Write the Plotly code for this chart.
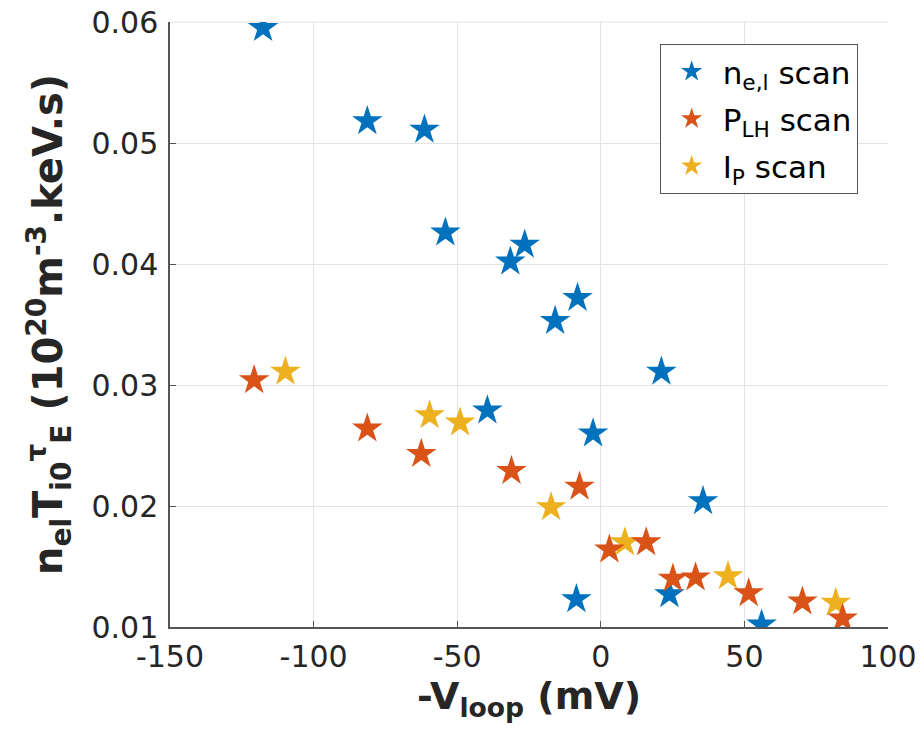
import plotly.graph_objects as go

# n_e,l scan (blue)
ne_x = [-117.6, -81.3, -61.4, -54.1, -26.5, -31.5, -39.5, -8.1, -15.9, 21.1, -2.7, 35.6, -8.5, 23.9, 56.0]
ne_y = [0.0595, 0.0518, 0.0511, 0.0426, 0.0416, 0.0402, 0.0279, 0.0372, 0.0353, 0.0311, 0.0260, 0.0204, 0.0123, 0.0127, 0.0102]

# P_LH scan (orange)
plh_x = [-120.7, -81.3, -62.5, -31.1, -7.4, 3.0, 15.8, 25.1, 33.0, 51.5, 70.2, 84.2]
plh_y = [0.0304, 0.0264, 0.0243, 0.0229, 0.0216, 0.0164, 0.0170, 0.0140, 0.0141, 0.0128, 0.0121, 0.0107]

# I_P scan (yellow)
ip_x = [-109.8, -59.6, -49.0, -17.3, 8.4, 44.3, 81.8]
ip_y = [0.0311, 0.0275, 0.0269, 0.0199, 0.0170, 0.0142, 0.0120]

x_ticks = [-150, -100, -50, 0, 50, 100]
x_ticklabels = ["-150", "-100", "-50", "0", "50", "100"]
y_ticks = [0.01, 0.02, 0.03, 0.04, 0.05, 0.06]
y_ticklabels = ["0.01", "0.02", "0.03", "0.04", "0.05", "0.06"]

BLUE = "#0072BD"
ORANGE = "#D95319"
YELLOW = "#EDB120"
GRID = "#e3e3e3"
MSIZE = 23
FONT = "DejaVu Sans"

fig = go.Figure()
fig.add_trace(go.Scatter(x=ne_x, y=ne_y, mode="markers", name="n<sub>e,l</sub> scan",
                         marker=dict(symbol="star", size=MSIZE, color=BLUE, line=dict(width=0)),
                         legendrank=1, legendgroup="g1"))
fig.add_trace(go.Scatter(x=ip_x, y=ip_y, mode="markers", name="I<sub>P</sub> scan",
                         marker=dict(symbol="star", size=MSIZE, color=YELLOW, line=dict(width=0)),
                         legendrank=3, legendgroup="g3"))
fig.add_trace(go.Scatter(x=plh_x, y=plh_y, mode="markers", name="P<sub>LH</sub> scan",
                         marker=dict(symbol="star", size=MSIZE, color=ORANGE, line=dict(width=0)),
                         legendrank=2, legendgroup="g2"))

axis_common = dict(
    showgrid=True, gridcolor=GRID, gridwidth=1,
    showline=True, linecolor="#555555", linewidth=1.5,
    ticks="inside", ticklen=6, tickcolor="#555555",
    zeroline=False, mirror=False, automargin=False,
    ticklabeloverflow="allow",
    tickfont=dict(family=FONT, size=30, color="#262626"),
)

fig.update_xaxes(range=[-150, 100], tickvals=x_ticks, ticktext=x_ticklabels,
                 ticklabelstandoff=2,
                 title=dict(text="<b>-V<sub>loop</sub> (mV)</b>",
                            font=dict(family=FONT, size=38, color="#262626"), standoff=4),
                 **axis_common)
fig.update_yaxes(range=[0.01, 0.06], tickvals=y_ticks, ticktext=y_ticklabels,
                 ticklabelstandoff=4,
                 title=dict(text="<b>n<sub>el</sub>T<sub>i0</sub><sup>τ</sup><sub>E</sub> (10<sup>20</sup>m<sup>-3</sup>.keV.s)</b>",
                            font=dict(family=FONT, size=40, color="#262626"), standoff=16),
                 **axis_common)

# top grid line at the upper edge of the axes box
fig.add_shape(type="line", xref="x domain", yref="y domain", x0=0, x1=1, y0=1, y1=1,
              line=dict(color=GRID, width=1), layer="below")

fig.update_layout(
    width=924, height=737,
    margin=dict(l=170, r=36, t=22, b=110),
    paper_bgcolor="white", plot_bgcolor="white",
    font=dict(family=FONT, color="#262626"),
    legend=dict(x=0.682, y=0.964, xanchor="left", yanchor="top",
                bgcolor="white", bordercolor="#555555", borderwidth=1,
                font=dict(family=FONT, size=31, color="#000000"),
                itemsizing="trace", itemwidth=52, tracegroupgap=4,
                traceorder="grouped"),
)

fig.write_html("out.html", config={"displayModeBar": False},
               post_script="document.body.style.margin='0px';")
